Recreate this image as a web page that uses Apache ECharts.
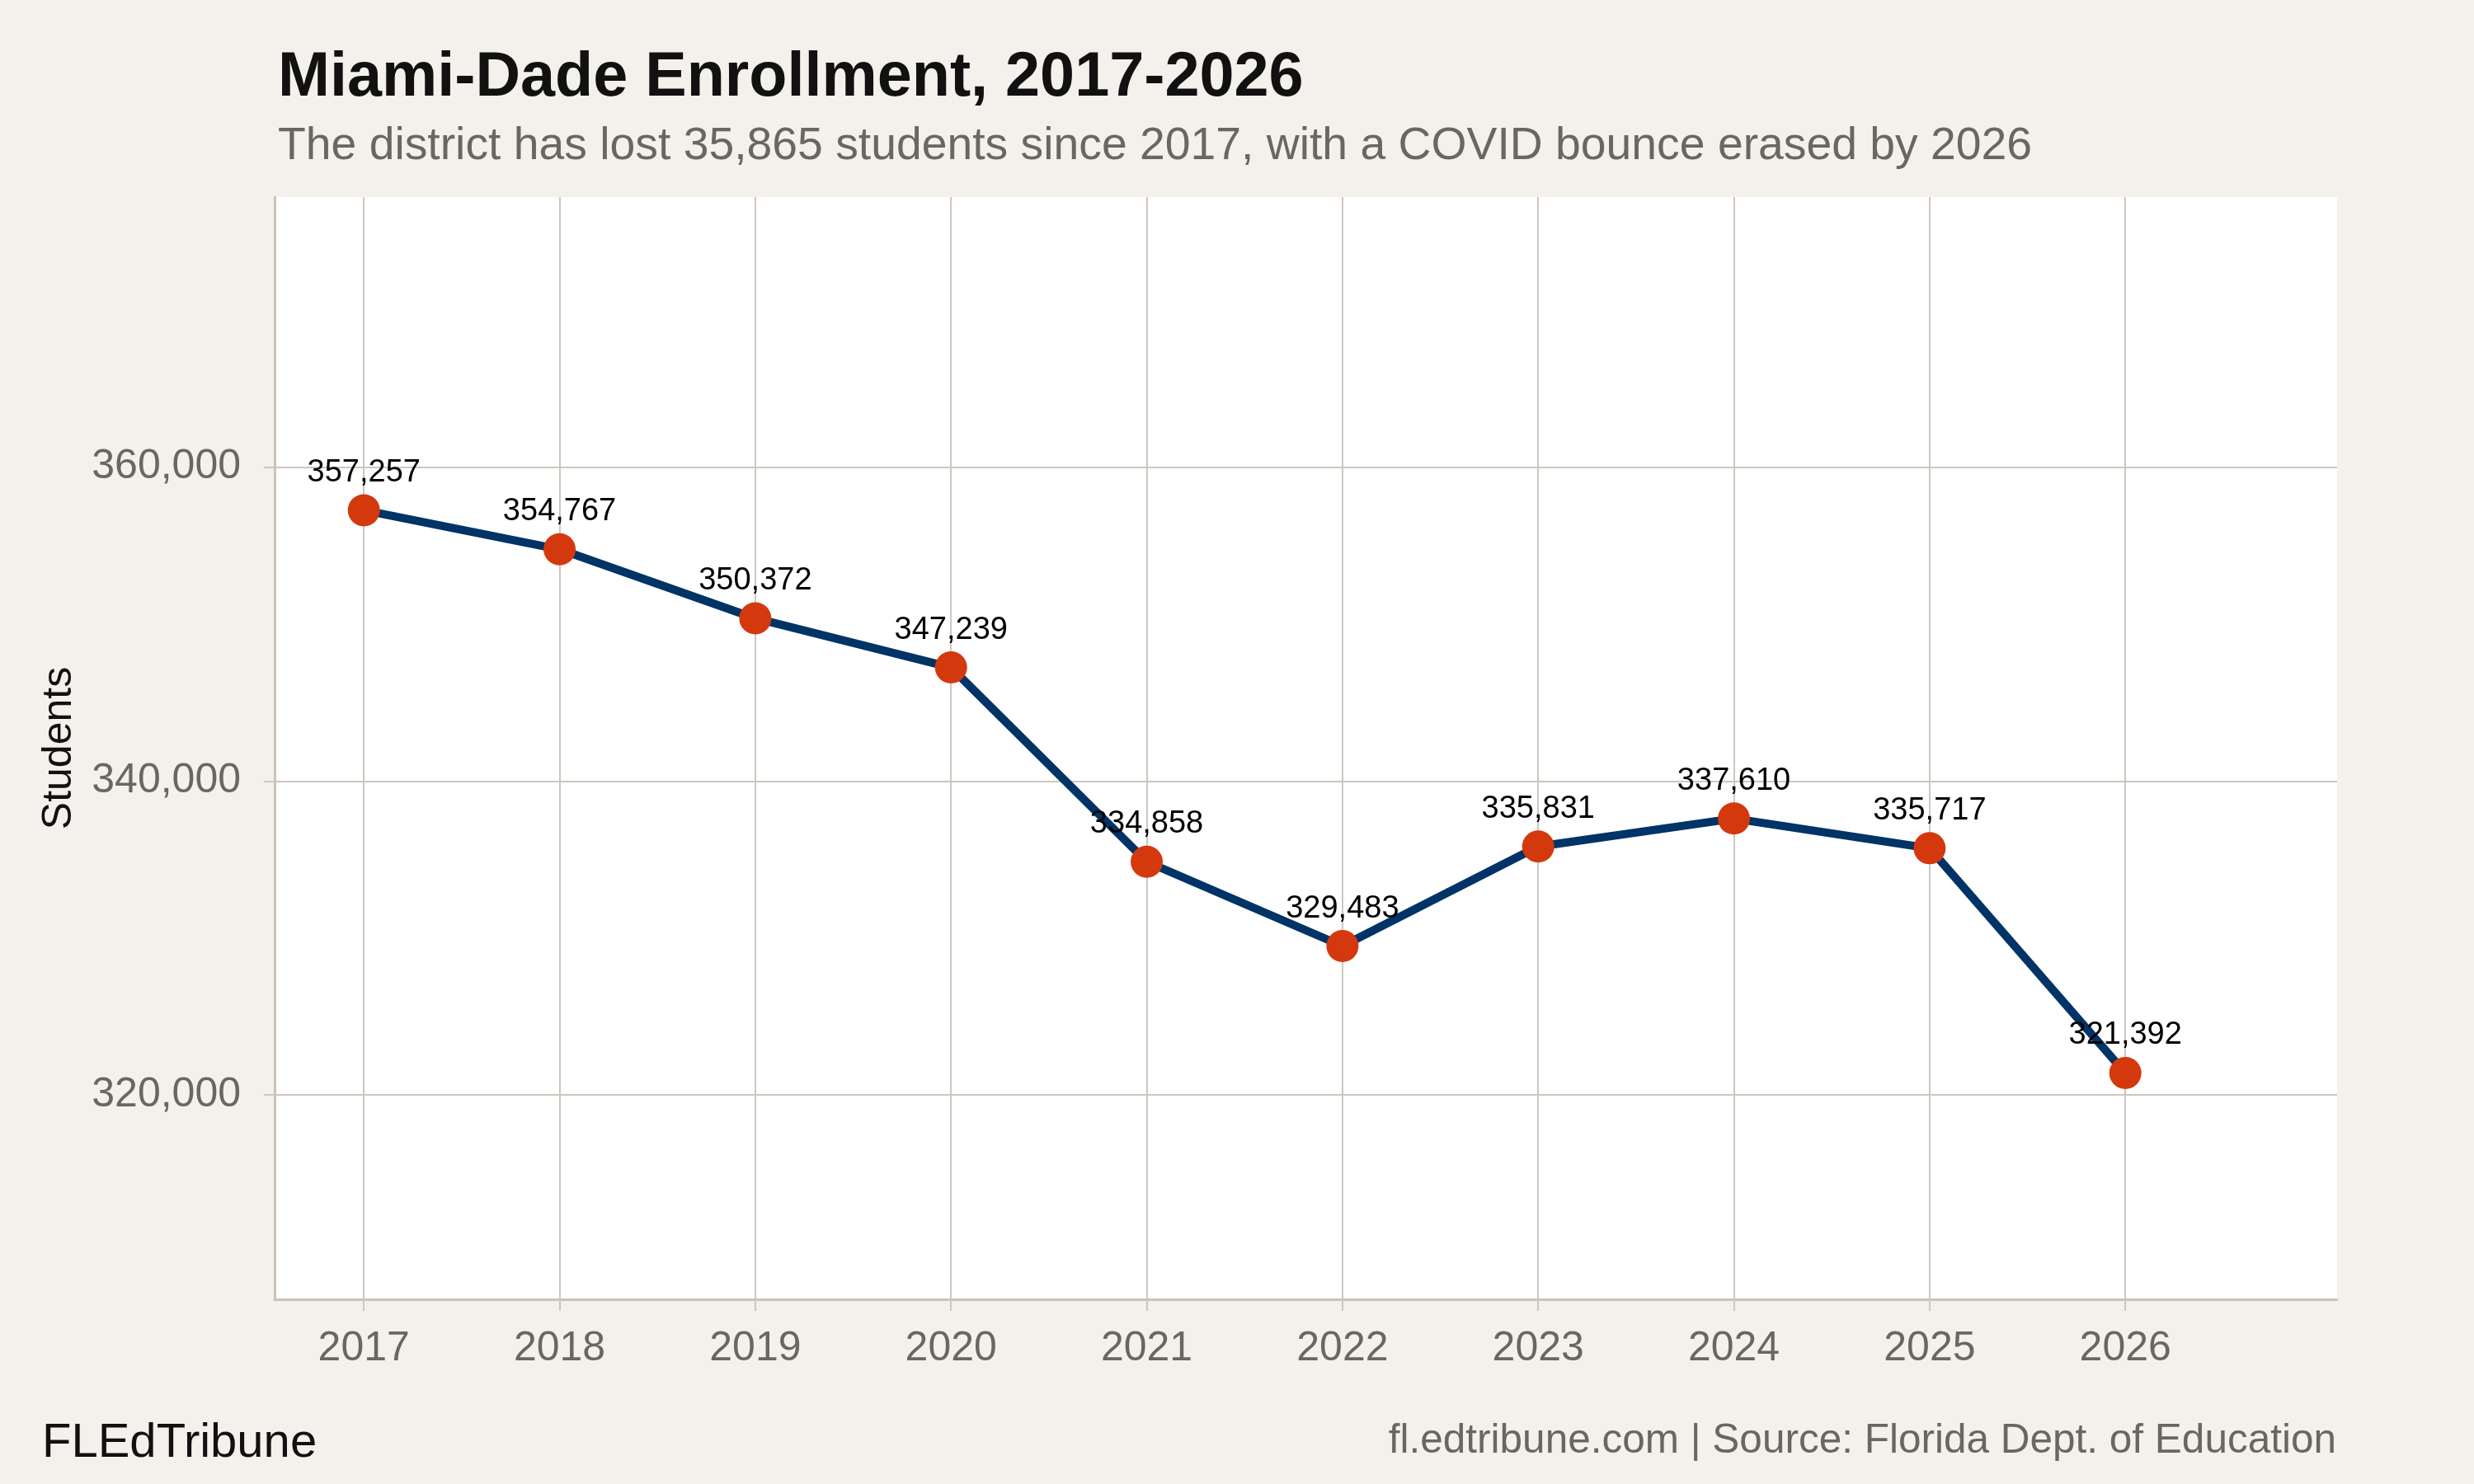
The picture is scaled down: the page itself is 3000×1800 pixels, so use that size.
<!DOCTYPE html>
<html>
<head>
<meta charset="utf-8">
<script src="https://cdn.jsdelivr.net/npm/echarts@6/dist/echarts.min.js"></script>
<style>
  html, body { margin: 0; padding: 0; background: #f4f1ec; }
  #chart { width: 3000px; height: 1800px; }
</style>
</head>
<body>
<div id="chart"></div>
<script>
// enrollment by school year
const years = [2017, 2018, 2019, 2020, 2021, 2022, 2023, 2024, 2025, 2026];
const students = [357257, 354767, 350372, 347239, 334858, 329483, 335831, 337610, 335717, 321392];
const yTicks = [320000, 340000, 360000];

const font = '"Liberation Sans", Arimo, Helvetica, Arial, sans-serif';
const gridColor = '#cdc7bd';
const axisColor = '#c9c3b9';
const mutedText = '#6b6661';

const chart = echarts.init(document.getElementById('chart'));

const fmt = v => v.toLocaleString('en-US');

chart.setOption({
  backgroundColor: '#f4f1ec',
  textStyle: { fontFamily: font },
  title: [
    {
      text: 'Miami-Dade Enrollment, 2017-2026',
      left: 332, top: 52,
      textStyle: { fontFamily: font, fontSize: 75.6, fontWeight: 'bold', color: '#111111' }
    },
    {
      text: 'The district has lost 35,865 students since 2017, with a COVID bounce erased by 2026',
      left: 332, top: 145,
      textStyle: { fontFamily: font, fontSize: 55.3, fontWeight: 'normal', color: mutedText }
    },
    {
      text: 'FLEdTribune',
      left: 46, top: 1717,
      textStyle: { fontFamily: font, fontSize: 58, fontWeight: 'normal', color: '#111111' }
    },
    {
      text: 'fl.edtribune.com | Source: Florida Dept. of Education',
      right: 162, top: 1718,
      textStyle: { fontFamily: font, fontSize: 49.5, fontWeight: 'normal', color: mutedText }
    }
  ],
  grid: {
    left: 333, right: 166, top: 239, bottom: 224,
    show: true, backgroundColor: '#ffffff', borderWidth: 0
  },
  xAxis: {
    type: 'value',
    min: 2016.544,
    max: 2027.082,
    axisLine: { show: true, lineStyle: { color: axisColor, width: 3 } },
    axisTick: { show: true, length: 14, customValues: years, lineStyle: { color: gridColor, width: 2 } },
    axisLabel: {
      customValues: years,
      formatter: v => String(v),
      fontSize: 50, color: mutedText, margin: 35, fontFamily: font
    },
    splitLine: { show: true, lineStyle: { color: gridColor, width: 2 } }
  },
  yAxis: {
    type: 'value',
    min: 306970,
    max: 377218,
    name: 'Students',
    nameLocation: 'middle',
    nameGap: 236,
    nameTextStyle: { fontSize: 50, color: '#111111', fontFamily: font },
    axisLine: { show: true, lineStyle: { color: axisColor, width: 3 } },
    axisTick: { show: true, length: 13, customValues: yTicks, lineStyle: { color: gridColor, width: 2 } },
    axisLabel: {
      customValues: yTicks,
      formatter: fmt,
      fontSize: 50, color: mutedText, margin: 41, fontFamily: font,
      padding: [10, 0, 0, 0]
    },
    splitLine: { show: true, lineStyle: { color: gridColor, width: 2 } }
  },
  series: [
    {
      type: 'line',
      data: years.map((y, i) => [y, students[i]]),
      lineStyle: { color: '#003366', width: 10 },
      itemStyle: { color: '#d4390e' },
      symbol: 'circle',
      symbolSize: 39,
      z: 3,
      label: {
        show: true,
        position: 'top',
        distance: 7,
        formatter: p => fmt(p.value[1]),
        fontSize: 38,
        color: '#000000',
        fontFamily: font
      },
      animation: false
    }
  ],
  animation: false
});
</script>
</body>
</html>
